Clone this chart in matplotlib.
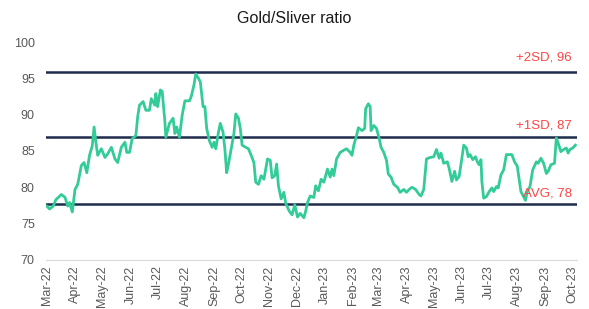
import pandas as pd
import matplotlib
matplotlib.use("Agg")
import matplotlib.pyplot as plt
import matplotlib.dates as mdates

plt.rcParams["font.family"] = ["Liberation Sans", "DejaVu Sans"]

# gold/silver ratio
dates_2022 = [
    "03-01", "03-04", "03-08", "03-11", "03-17", "03-21", "03-24", "03-26", "03-29", "04-01",
    "04-04", "04-08", "04-11", "04-14", "04-17", "04-20", "04-22", "04-24", "04-26", "04-30",
    "05-04", "05-07", "05-11", "05-15", "05-18", "05-22", "05-26", "05-28", "05-31", "06-03",
    "06-07", "06-09", "06-11", "06-15", "06-18", "06-22", "06-24", "06-28", "06-29", "07-01",
    "07-04", "07-06", "07-09", "07-10", "07-14", "07-18", "07-20", "07-22", "07-25", "07-28",
    "07-31", "08-05", "08-07", "08-10", "08-12", "08-15", "08-17", "08-20", "08-22", "08-24",
    "08-27", "08-30", "09-01", "09-03", "09-06", "09-08", "09-11", "09-13", "09-15", "09-17",
    "09-20", "09-23", "09-25", "09-28", "09-30", "10-02", "10-06", "10-09", "10-12", "10-15",
    "10-17", "10-20", "10-23", "10-26", "10-30", "11-02", "11-04", "11-07", "11-09", "11-11",
    "11-14", "11-17", "11-19", "11-23", "11-26", "11-29", "12-02", "12-05", "12-09", "12-11",
    "12-13", "12-16", "12-20", "12-22", "12-25", "12-28", "12-31",
]
ratio_2022 = [
    77.4, 77.0, 77.4, 78.3, 79.0, 78.6, 77.4, 77.9, 76.6, 79.7,
    80.4, 83.0, 83.4, 82.0, 84.4, 85.7, 88.3, 86.2, 84.4, 85.3,
    84.1, 84.6, 85.5, 83.9, 83.4, 85.5, 86.2, 84.8, 84.8, 86.7,
    87.1, 89.7, 91.3, 91.8, 90.6, 90.6, 92.2, 91.3, 92.9, 91.1,
    93.4, 93.2, 89.0, 86.9, 88.8, 89.5, 87.4, 88.3, 86.9, 89.9,
    91.9, 91.9, 92.5, 94.1, 95.6, 95.0, 94.5, 91.1, 91.1, 88.1,
    86.4, 85.5, 86.2, 85.3, 87.6, 88.8, 87.6, 85.3, 82.0, 83.2,
    85.3, 87.4, 90.1, 89.5, 88.1, 85.8, 85.5, 85.3, 84.4, 83.4,
    80.7, 80.4, 81.6, 81.1, 83.9, 83.7, 81.3, 81.6, 83.2, 80.2,
    78.4, 79.3, 77.8, 76.7, 76.2, 77.6, 75.9, 76.4, 75.8, 76.7,
    77.9, 78.8, 78.6, 80.2, 79.5, 81.1, 80.7,
]
dates_2023 = [
    "01-04", "01-07", "01-09", "01-11", "01-14", "01-18", "01-22", "01-25", "01-29", "01-31",
    "02-02", "02-05", "02-07", "02-11", "02-14", "02-15", "02-18", "02-20", "02-21", "02-24",
    "02-27", "03-02", "03-04", "03-07", "03-10", "03-12", "03-15", "03-18", "03-22", "03-25",
    "03-29", "04-01", "04-04", "04-07", "04-11", "04-15", "04-17", "04-20", "04-23", "04-27",
    "05-01", "05-04", "05-07", "05-09", "05-12", "05-16", "05-18", "05-21", "05-24", "05-26",
    "05-29", "06-01", "06-03", "06-06", "06-08", "06-10", "06-13", "06-16", "06-18", "06-20",
    "06-22", "06-23", "06-25", "06-28", "07-01", "07-04", "07-06", "07-09", "07-11", "07-14",
    "07-17", "07-20", "07-22", "07-26", "07-29", "08-01", "08-03", "08-05", "08-08", "08-10",
    "08-12", "08-15", "08-18", "08-22", "08-24", "08-27", "08-30", "09-02", "09-04", "09-07",
    "09-11", "09-13", "09-15", "09-18", "09-21", "09-24", "09-26", "09-28", "10-01", "10-04",
]
ratio_2023 = [
    82.5, 81.4, 82.5, 81.6, 83.9, 84.8, 85.1, 85.3, 84.8, 84.4,
    85.8, 87.1, 88.2, 87.8, 88.1, 90.8, 91.5, 91.1, 87.8, 88.5,
    88.1, 86.7, 85.5, 84.8, 83.7, 81.8, 81.4, 80.4, 80.0, 79.3,
    79.7, 79.3, 79.7, 80.0, 79.7, 79.0, 78.8, 79.7, 83.9, 84.1,
    84.2, 85.2, 84.0, 84.7, 83.3, 83.5, 82.6, 80.8, 82.2, 81.0,
    81.5, 84.0, 85.8, 85.4, 84.2, 84.5, 83.8, 84.2, 83.5, 83.1,
    83.8, 80.8, 78.5, 78.7, 79.4, 79.9, 79.4, 80.1, 79.9, 81.7,
    82.4, 84.5, 84.5, 84.5, 83.5, 82.9, 81.2, 79.4, 78.7, 78.2,
    79.4, 80.1, 82.4, 83.5, 83.3, 84.0, 83.3, 81.9, 82.2, 83.1,
    83.3, 86.8, 86.1, 84.9, 85.2, 85.4, 84.7, 85.2, 85.4, 85.8,
]

band_levels = [95.9, 86.9, 77.7]
band_labels = ["+2SD, 96", "+1SD, 87", "AVG, 78"]

dates = pd.to_datetime(["2022-" + d for d in dates_2022] + ["2023-" + d for d in dates_2023])
ratio = ratio_2022 + ratio_2023

fig = plt.figure(figsize=(5.89, 3.09), dpi=100)
ax = fig.add_axes([0.078, 0.159, 0.902, 0.705])

for lvl in band_levels:
    ax.axhline(lvl, color="#1f2d4d", lw=1.8, zorder=1)
ax.plot(dates, ratio, color="#33cc99", lw=2.0, zorder=2)

label_y = [band_levels[0] + 1.95, band_levels[1] + 1.55, band_levels[2] + 1.5]
for lbl, y in zip(band_labels, label_y):
    ax.text(0.99, y, lbl, transform=ax.get_yaxis_transform(), ha="right", va="center",
            color="#ff4545", fontsize=9.5, zorder=3)

ax.set_ylim(70, 100)
ax.set_yticks(range(70, 101, 5))
ax.set_xlim(pd.Timestamp("2022-02-28"), pd.Timestamp("2023-10-06"))
ax.xaxis.set_major_locator(mdates.MonthLocator())
ax.xaxis.set_major_formatter(mdates.DateFormatter("%b-%y"))
ax.tick_params(axis="x", rotation=90, length=0, pad=4, labelsize=9, labelcolor="#595959")
ax.tick_params(axis="y", length=0, pad=8, labelsize=9, labelcolor="#595959")

for s in ["top", "right", "left"]:
    ax.spines[s].set_visible(False)
ax.spines["bottom"].set_color("#d9d9d9")

fig.text(0.5, 0.94, "Gold/Sliver ratio", ha="center", va="center", fontsize=11.5, color="#1a1a1a")

fig.savefig("out.png", dpi=100)
